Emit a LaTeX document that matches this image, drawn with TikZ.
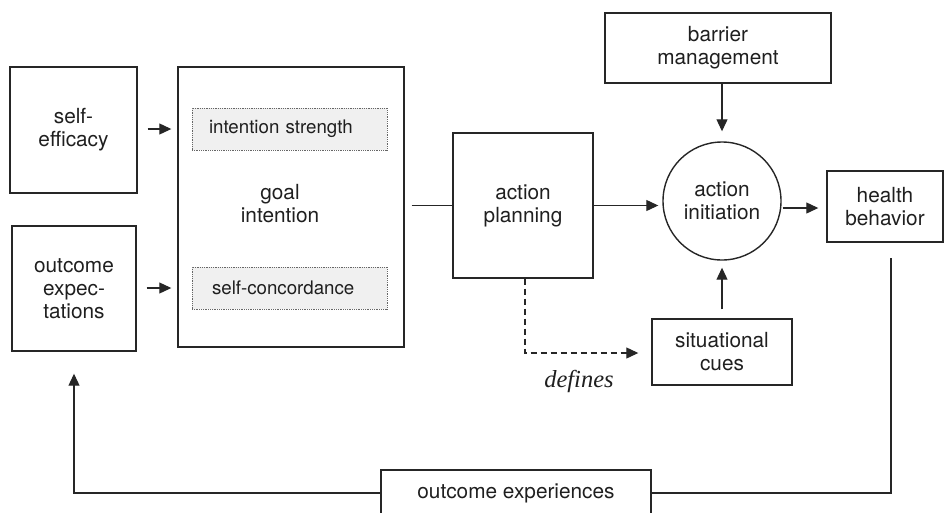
\documentclass[tikz,border=0pt]{standalone}
\usepackage{fontspec}
\setmainfont{TeX Gyre Heros}
\newfontfamily\defsfont{Liberation Serif}
\usetikzlibrary{arrows.meta,calc}
\begin{document}
\begin{tikzpicture}[x=1pt,y=-1pt,
  lab/.style={font=\fontsize{20.8}{23}\selectfont, text=black!88, align=center},
  box/.style={draw=black!85, line width=1.4pt, rectangle, inner sep=0pt, lab},
  inbox/.style={draw=black!60, densely dotted, line width=0.8pt, fill=black!6, rectangle,
     font=\fontsize{18.7}{21}\selectfont, text=black!88, align=left, minimum height=42pt},
  ln/.style={draw=black!85, line width=1.1pt},
  arr/.style={ln, -{Triangle[length=12pt,width=11pt]}}
]
\useasboundingbox (0,0) rectangle (944,512);
\clip (0,0) rectangle (944,512);

% nodes
\node[box, minimum width=127pt, minimum height=126pt] (selfeff) at (73.5,130) {self-\\efficacy};
\node[box, minimum width=124pt, minimum height=125pt] (outexp) at (74,288.5) {outcome\\expec-\\tations};
\node[box, minimum width=226pt, minimum height=280pt] (goal) at (291,207) {};
\node[lab] (goaltext) at (280,204) {goal\\intention};
\node[inbox, inner xsep=17pt, text width=161pt] (istr) at (289.5,129) {intention strength};
\node[inbox, inner xsep=20pt, text width=155pt] (sconc) at (289.5,288) {self-concordance};
\node[box, minimum width=140pt, minimum height=145pt] (plan) at (523,205.5) {action\\planning};
\node[box, circle, minimum size=118pt] (init) at (722,201) {action\\initiation};
\node[box, minimum width=116pt, minimum height=71pt] (health) at (885,206.5) {health\\behavior};
\node[box, minimum width=226pt, minimum height=70pt] (barrier) at (718,48) {barrier\\management};
\node[box, minimum width=140pt, minimum height=66pt] (cues) at (722,352) {situational\\cues};
\node[box, minimum width=270pt, minimum height=46pt] (oexp) at (516,493) {outcome experiences};
\node[font=\defsfont\itshape\fontsize{24.5}{26}\selectfont, text=black!88] (defines) at (579,381) {defines};

% connectors (yshift is in page direction: positive = up)
\draw[arr] ([xshift=10pt]selfeff.east |- istr.west) -- ([xshift=-6pt]goal.west |- istr.west);
\draw[arr] ([xshift=10pt]outexp.east |- sconc.west) -- ([xshift=-6pt]goal.west |- sconc.west);
\draw[ln] ([xshift=7pt]goal.east |- plan.west) -- (plan.west);
\draw[arr] (plan.east) -- ([xshift=-4pt]init.west |- plan.east);
\draw[arr] ([xshift=1pt]init.east |- 0,208) -- ([xshift=-8pt]health.west |- 0,208);
\draw[arr] (barrier.south -| init.north) -- ([yshift=10pt]init.north);
\draw[arr] ([yshift=9pt]cues.north) -- ([yshift=-7pt]init.south);
\draw[ln, dashed, dash pattern=on 6pt off 4pt, -{Triangle[length=12pt,width=11pt]}]
  (plan.south -| 525,0) -- (525,353) -- ([xshift=-13pt]cues.west |- 0,353);
\coordinate (lc) at (74,493);
\coordinate (rc) at (891,493);
\draw[arr] (oexp.west) -- (lc) -- ([yshift=-22pt]outexp.south -| lc);
\draw[ln] (oexp.east) -- (rc) -- ([yshift=-15pt]health.south -| rc);
\end{tikzpicture}
\end{document}
